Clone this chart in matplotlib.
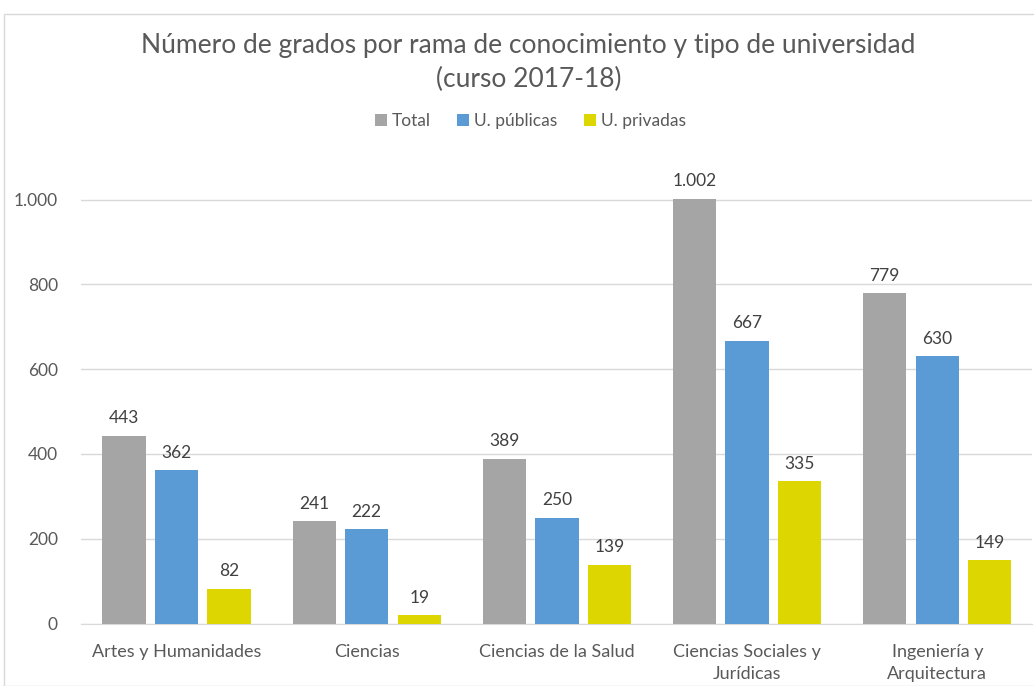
import matplotlib
matplotlib.use("Agg")
import matplotlib.pyplot as plt
from matplotlib.patches import Rectangle
import numpy as np

categories = ["Artes y Humanidades", "Ciencias", "Ciencias de la Salud",
              "Ciencias Sociales y\nJurídicas", "Ingeniería y\nArquitectura"]
total = [443, 241, 389, 1002, 779]
publicas = [362, 222, 250, 667, 630]
privadas = [82, 19, 139, 335, 149]

series = [("Total", total, "#A5A5A5"),
          ("U. públicas", publicas, "#5B9BD5"),
          ("U. privadas", privadas, "#DDD600")]

FONT = ["Lato", "DejaVu Sans"]
TXT = "#595959"
plt.rcParams["font.family"] = FONT

fig = plt.figure(figsize=(10.34, 6.86), dpi=100)
fig.patches.append(Rectangle((4 / 1034, 0), 1.0, 1 - 14 / 686, transform=fig.transFigure,
                             fill=False, edgecolor="#D9D9D9", linewidth=1))

ax = fig.add_axes([81.4 / 1034, 62.5 / 686, 951 / 1034, 474 / 686])

x = np.arange(len(categories))
width = 0.228
step = 0.276
for i, (name, vals, color) in enumerate(series):
    pos = x + (i - 1) * step
    bars = ax.bar(pos, vals, width, color=color, label=name, zorder=3)
    for b, v in zip(bars, vals):
        ax.text(b.get_x() + b.get_width() / 2, v + 22, f"{v:,}".replace(",", "."),
                ha="center", va="bottom", fontsize=12.5, color="#404040")

ax.set_xlim(-0.5, 4.5)
ax.set_ylim(0, 1118)
ax.set_yticks(range(0, 1001, 200))
ax.set_yticklabels([f"{v:,}".replace(",", ".") for v in range(0, 1001, 200)])
ax.set_xticks(x)
ax.set_xticklabels(categories, linespacing=1.45)
ax.tick_params(axis="both", length=0, colors=TXT)
ax.tick_params(axis="y", pad=17, labelsize=12.5)
ax.tick_params(axis="x", pad=15, labelsize=13)
ax.grid(axis="y", color="#D9D9D9", linewidth=1, zorder=0)
for s in ["top", "right", "left"]:
    ax.spines[s].set_visible(False)
ax.spines["bottom"].set_color("#D9D9D9")

fig.text(0.511, 1 - 46 / 686, "Número de grados por rama de conocimiento y tipo de universidad",
         ha="center", va="center", fontsize=19, color=TXT)
fig.text(0.511, 1 - 79 / 686, "(curso 2017-18)", ha="center", va="center", fontsize=19, color=TXT)

fig.legend(loc="center", bbox_to_anchor=(0.513, 1 - 121 / 686), ncol=3, frameon=False,
           fontsize=12.5, handlelength=0.7, handleheight=0.7, handletextpad=0.3,
           columnspacing=1.5, labelcolor=TXT)

fig.savefig("out.png", dpi=100)
